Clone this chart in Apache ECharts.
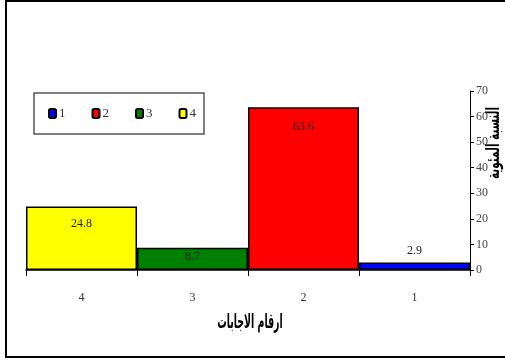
<!DOCTYPE html>
<html><head><meta charset="utf-8">
<script src="https://cdn.jsdelivr.net/npm/echarts@6/dist/echarts.min.js"></script>
<style>html,body{margin:0;padding:0;background:#fff}#c{width:505px;height:362px}</style>
</head><body><div id="c"></div>
<script>
const categories = ['1', '2', '3', '4'];
const values = [2.9, 63.6, 8.7, 24.8];
const colors = ['#0000FF', '#FF0000', '#008000', '#FFFF00'];
const xTitle = 'ارقام الاجابات';
const yTitle = 'النسبة المئوية';

const serif = 'Liberation Serif';
const labelOpts = [
  { position: 'top', distance: 6 },
  { position: 'insideTop', distance: 13 },
  { position: 'insideTop', distance: 3 },
  { position: 'insideTop', distance: 11 }
];

const chart = echarts.init(document.getElementById('c'));
chart.setOption({
  animation: false,
  backgroundColor: '#fff',
  grid: { left: 26, right: 35, top: 91, bottom: 92 },
  legend: {
    left: 34, top: 93,
    padding: [14, 8, 14, 14],
    itemGap: 26,
    itemWidth: 7, itemHeight: 9,
    icon: 'roundRect',
    borderColor: '#555', borderWidth: 1.5,
    backgroundColor: '#fff',
    textStyle: { fontFamily: serif, fontSize: 13, color: '#333', padding: [0, 0, 0, -2] },
    data: categories
  },
  xAxis: {
    type: 'category',
    data: categories,
    inverse: true,
    axisLine: { lineStyle: { color: '#000', width: 1.5 } },
    axisTick: { show: true, length: 6, lineStyle: { color: '#000' } },
    axisLabel: { fontFamily: serif, fontSize: 12, color: '#333', margin: 22 }
  },
  yAxis: {
    type: 'value',
    position: 'right',
    min: 0, max: 70, interval: 10,
    splitLine: { show: false },
    axisLine: { show: true, lineStyle: { color: '#000', width: 1 } },
    axisTick: { show: true, inside: false, length: 4, lineStyle: { color: '#000' } },
    axisLabel: { fontFamily: serif, fontSize: 12, color: '#444', margin: 6 }
  },
  series: categories.map((c, i) => ({
    name: c,
    type: 'bar',
    stack: 'all',
    barWidth: '100%',
    data: values.map((v, j) => (j === i ? v : '-')),
    itemStyle: { color: colors[i], borderColor: '#000', borderWidth: 1.5 },
    label: Object.assign({
      show: true,
      fontFamily: serif, fontSize: 12, color: '#222'
    }, labelOpts[i])
  })),
  graphic: [
    { type: 'rect', shape: { x: 6, y: 1, width: 502, height: 356 },
      style: { fill: 'none', stroke: '#000', lineWidth: 2 }, z: 100 },
    { type: 'text', x: 250, y: 323, scaleX: 0.47, scaleY: 1,
      style: { text: xTitle, font: 'bold 20px "DejaVu Sans"', fill: '#000', textAlign: 'center', textVerticalAlign: 'middle' } },
    { type: 'text', x: 494, y: 143, rotation: Math.PI / 2, scaleX: 0.58, scaleY: 1,
      style: { text: yTitle, font: 'bold 18px "DejaVu Sans"', fill: '#000', textAlign: 'center', textVerticalAlign: 'middle' } }
  ]
});
</script></body></html>
